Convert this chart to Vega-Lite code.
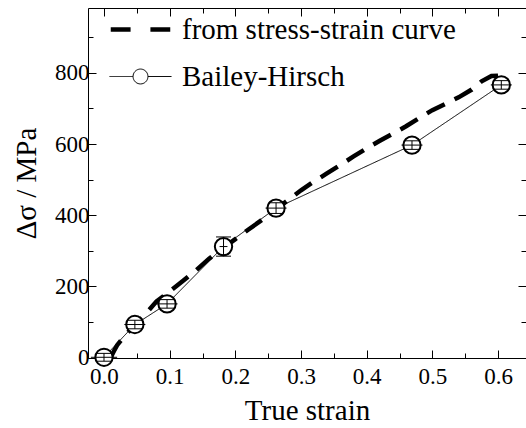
{
  "$schema": "https://vega.github.io/schema/vega-lite/v6.json",
  "width": 438,
  "height": 350,
  "autosize": {"type": "none"},
  "padding": {"left": 88, "top": 8, "right": 0, "bottom": 70},
  "config": {
    "view": {"stroke": null},
    "font": "Liberation Serif",
    "axis": {
      "grid": false,
      "domainColor": "black",
      "domainWidth": 1,
      "tickColor": "black",
      "tickWidth": 1,
      "labelColor": "black",
      "titleColor": "black",
      "labelFont": "Liberation Serif",
      "titleFont": "Liberation Serif",
      "labelFontSize": 23,
      "titleFontSize": 29,
      "titleFontWeight": "normal"
    }
  },
  "datasets": {
    "lines": [
      {"series": "from stress-strain curve", "strain": 0.010, "stress": 0},
      {"series": "from stress-strain curve", "strain": 0.015, "stress": 18},
      {"series": "from stress-strain curve", "strain": 0.020, "stress": 35},
      {"series": "from stress-strain curve", "strain": 0.030, "stress": 58},
      {"series": "from stress-strain curve", "strain": 0.040, "stress": 78},
      {"series": "from stress-strain curve", "strain": 0.050, "stress": 97},
      {"series": "from stress-strain curve", "strain": 0.060, "stress": 116},
      {"series": "from stress-strain curve", "strain": 0.080, "stress": 158},
      {"series": "from stress-strain curve", "strain": 0.100, "stress": 186},
      {"series": "from stress-strain curve", "strain": 0.120, "stress": 215},
      {"series": "from stress-strain curve", "strain": 0.140, "stress": 245},
      {"series": "from stress-strain curve", "strain": 0.160, "stress": 278},
      {"series": "from stress-strain curve", "strain": 0.180, "stress": 306},
      {"series": "from stress-strain curve", "strain": 0.200, "stress": 333},
      {"series": "from stress-strain curve", "strain": 0.220, "stress": 360},
      {"series": "from stress-strain curve", "strain": 0.240, "stress": 386},
      {"series": "from stress-strain curve", "strain": 0.260, "stress": 414},
      {"series": "from stress-strain curve", "strain": 0.280, "stress": 442},
      {"series": "from stress-strain curve", "strain": 0.300, "stress": 470},
      {"series": "from stress-strain curve", "strain": 0.320, "stress": 495},
      {"series": "from stress-strain curve", "strain": 0.340, "stress": 518},
      {"series": "from stress-strain curve", "strain": 0.360, "stress": 541},
      {"series": "from stress-strain curve", "strain": 0.380, "stress": 565},
      {"series": "from stress-strain curve", "strain": 0.400, "stress": 588},
      {"series": "from stress-strain curve", "strain": 0.420, "stress": 609},
      {"series": "from stress-strain curve", "strain": 0.440, "stress": 629},
      {"series": "from stress-strain curve", "strain": 0.460, "stress": 650},
      {"series": "from stress-strain curve", "strain": 0.480, "stress": 673},
      {"series": "from stress-strain curve", "strain": 0.500, "stress": 695},
      {"series": "from stress-strain curve", "strain": 0.520, "stress": 713},
      {"series": "from stress-strain curve", "strain": 0.540, "stress": 731},
      {"series": "from stress-strain curve", "strain": 0.560, "stress": 753},
      {"series": "from stress-strain curve", "strain": 0.575, "stress": 776},
      {"series": "from stress-strain curve", "strain": 0.590, "stress": 791},
      {"series": "from stress-strain curve", "strain": 0.600, "stress": 792},
      {"series": "Bailey-Hirsch", "strain": 0.000, "stress": 1, "xlo": -0.02, "xhi": 0.02, "ylo": -10, "yhi": 12},
      {"series": "Bailey-Hirsch", "strain": 0.047, "stress": 93, "xlo": 0.031, "xhi": 0.063, "ylo": 81, "yhi": 105},
      {"series": "Bailey-Hirsch", "strain": 0.096, "stress": 151, "xlo": 0.080, "xhi": 0.112, "ylo": 139, "yhi": 163},
      {"series": "Bailey-Hirsch", "strain": 0.182, "stress": 312, "xlo": 0.176, "xhi": 0.188, "ylo": 285, "yhi": 339},
      {"series": "Bailey-Hirsch", "strain": 0.262, "stress": 420, "xlo": 0.246, "xhi": 0.278, "ylo": 405, "yhi": 435},
      {"series": "Bailey-Hirsch", "strain": 0.469, "stress": 597, "xlo": 0.453, "xhi": 0.485, "ylo": 585, "yhi": 609},
      {"series": "Bailey-Hirsch", "strain": 0.605, "stress": 766, "xlo": 0.589, "xhi": 0.621, "ylo": 754, "yhi": 778}
    ]
  },
  "data": {"name": "lines"},
  "resolve": {"axis": {"x": "independent", "y": "independent"}},
  "layer": [
    {
      "mark": {"type": "line", "color": "black", "clip": true},
      "encoding": {
        "x": {
          "field": "strain", "type": "quantitative",
          "scale": {"domain": [-0.02436, 0.6426], "nice": false, "zero": false},
          "axis": {
            "orient": "bottom",
            "title": "True strain",
            "values": [0, 0.05, 0.1, 0.15, 0.2, 0.25, 0.3, 0.35, 0.4, 0.45, 0.5, 0.55, 0.6],
            "labelExpr": "abs(datum.value*10 - round(datum.value*10)) < 0.001 ? format(datum.value, '.1f') : ''",
            "tickSize": {"condition": {"test": "abs(datum.value*10 - round(datum.value*10)) < 0.001", "value": -8}, "value": -5},
            "labelPadding": 15,
            "titlePadding": 8
          }
        },
        "y": {
          "field": "stress", "type": "quantitative",
          "scale": {"domain": [-1, 982], "nice": false, "zero": false},
          "axis": {
            "orient": "left",
            "title": "Δσ / MPa",
            "values": [0, 100, 200, 300, 400, 500, 600, 700, 800, 900],
            "labelExpr": "datum.value % 200 == 0 && datum.value <= 800 ? format(datum.value, 'd') : ''",
            "tickSize": {"condition": {"test": "datum.value % 200 == 0", "value": -8}, "value": -5},
            "labelPadding": 7,
            "titlePadding": 13
          }
        },
        "strokeDash": {
          "field": "series", "type": "nominal",
          "scale": {"domain": ["from stress-strain curve", "Bailey-Hirsch"], "range": [[20, 11], [1, 0]]},
          "legend": {
            "orient": "none",
            "legendX": 19,
            "legendY": -12,
            "title": null,
            "symbolType": "stroke",
            "symbolSize": 3844,
            "symbolStrokeColor": "black",
            "labelFont": "Liberation Serif",
            "labelFontSize": 29,
            "labelColor": "black",
            "labelOffset": 8,
            "rowPadding": -27,
            "labelLimit": 400,
            "encode": {
              "symbols": {
                "update": {
                  "shape": {"signal": "datum.value === 'Bailey-Hirsch' ? 'M-1,0H-0.24M0.24,0H1M-0.24,0A0.24,0.24 0 1,0 0.24,0A0.24,0.24 0 1,0 -0.24,0Z' : 'M-0.96,0H-0.32M0.32,0H0.96'"},
                  "strokeWidth": {"signal": "datum.value === 'Bailey-Hirsch' ? 1.6 : 4.5"},
                  "stroke": {"value": "black"},
                  "fill": {"value": "transparent"}
                }
              }
            }
          }
        },
        "strokeWidth": {
          "field": "series", "type": "nominal",
          "scale": {"domain": ["from stress-strain curve", "Bailey-Hirsch"], "range": [4.5, 1]},
          "legend": null
        }
      }
    },
    {
      "transform": [{"filter": "datum.series === 'Bailey-Hirsch'"}],
      "mark": {"type": "point", "shape": "circle", "size": 300, "filled": true, "fill": "white", "stroke": "black", "strokeWidth": 2, "opacity": 1},
      "encoding": {
        "x": {
          "field": "strain", "type": "quantitative",
          "axis": {
            "orient": "top",
            "title": null,
            "values": [0, 0.05, 0.1, 0.15, 0.2, 0.25, 0.3, 0.35, 0.4, 0.45, 0.5, 0.55, 0.6],
            "labels": false,
            "tickSize": {"condition": {"test": "abs(datum.value*10 - round(datum.value*10)) < 0.001", "value": -8}, "value": -5}
          }
        },
        "y": {
          "field": "stress", "type": "quantitative",
          "axis": {
            "orient": "right",
            "title": null,
            "domain": false,
            "values": [0, 100, 200, 300, 400, 500, 600, 700, 800, 900],
            "labels": false,
            "tickSize": {"condition": {"test": "datum.value % 200 == 0", "value": -8}, "value": -5}
          }
        }
      }
    },
    {
      "transform": [{"filter": "datum.series === 'Bailey-Hirsch'"}],
      "mark": {"type": "rule", "color": "black", "strokeWidth": 1},
      "encoding": {
        "x": {"field": "xlo", "type": "quantitative", "axis": null},
        "x2": {"field": "xhi"},
        "y": {"field": "stress", "type": "quantitative", "axis": null}
      }
    },
    {
      "transform": [{"filter": "datum.series === 'Bailey-Hirsch'"}],
      "mark": {"type": "rule", "color": "black", "strokeWidth": 1},
      "encoding": {
        "x": {"field": "strain", "type": "quantitative", "axis": null},
        "y": {"field": "ylo", "type": "quantitative", "axis": null},
        "y2": {"field": "yhi"}
      }
    },
    {
      "transform": [{"filter": "datum.series === 'Bailey-Hirsch'"}],
      "mark": {"type": "tick", "orient": "horizontal", "color": "black", "size": 15, "thickness": 1, "opacity": 1},
      "encoding": {
        "x": {"field": "strain", "type": "quantitative", "axis": null},
        "y": {"field": "ylo", "type": "quantitative", "axis": null}
      }
    },
    {
      "transform": [{"filter": "datum.series === 'Bailey-Hirsch'"}],
      "mark": {"type": "tick", "orient": "horizontal", "color": "black", "size": 15, "thickness": 1, "opacity": 1},
      "encoding": {
        "x": {"field": "strain", "type": "quantitative", "axis": null},
        "y": {"field": "yhi", "type": "quantitative", "axis": null}
      }
    }
  ]
}
